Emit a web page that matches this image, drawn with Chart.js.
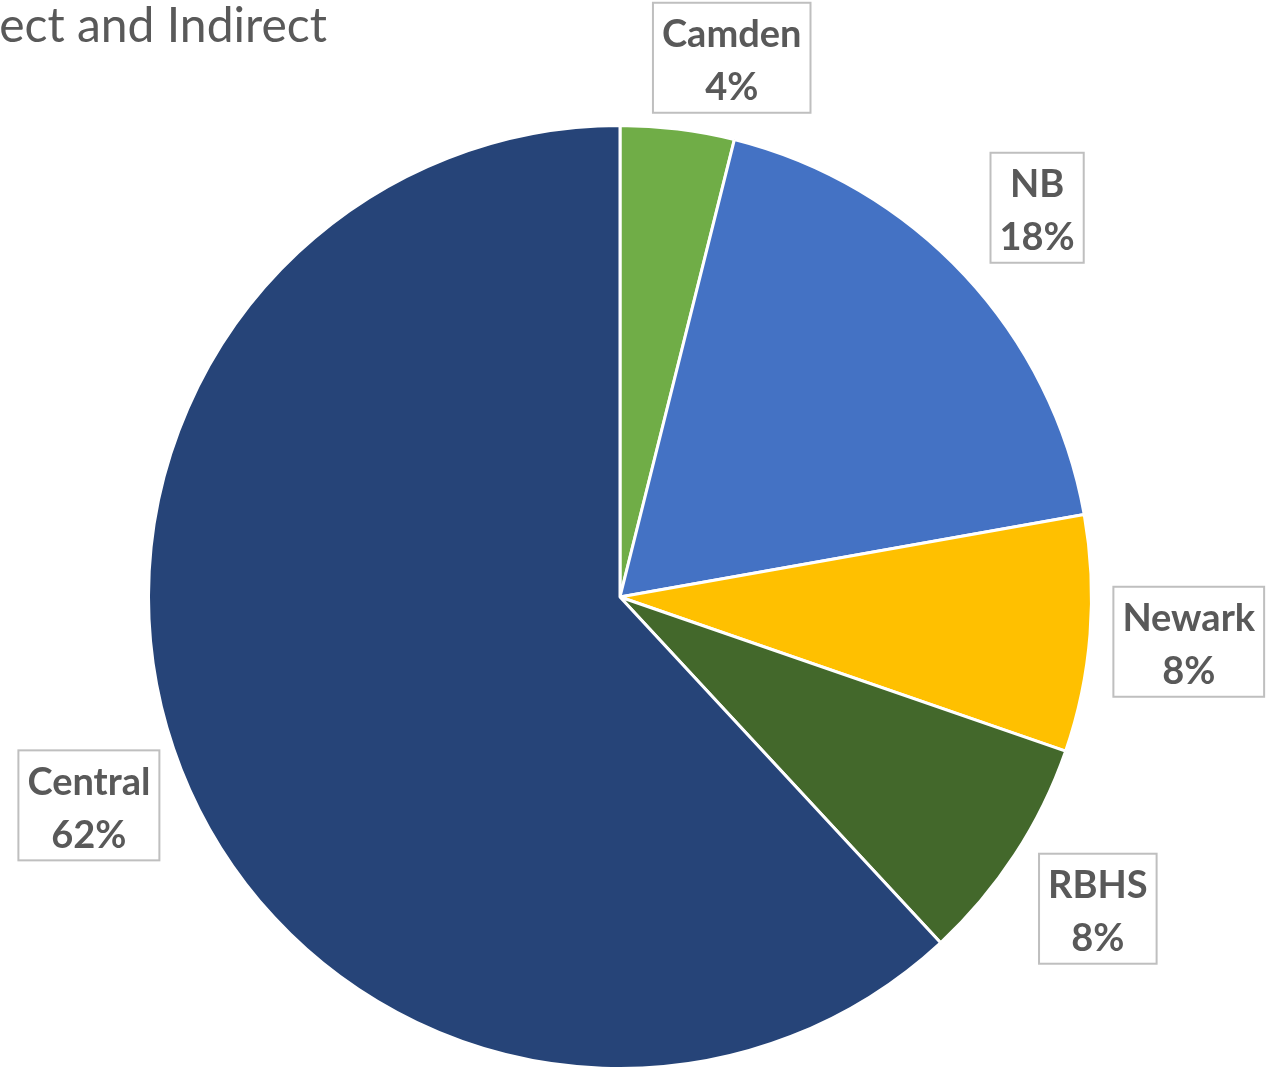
<!DOCTYPE html>
<html>
<head>
<meta charset="utf-8">
<script src="https://cdn.jsdelivr.net/npm/chart.js@4/dist/chart.umd.min.js"></script>
<style>
  html, body { margin: 0; padding: 0; background: #fff; }
  #wrap { width: 1272px; height: 1073px; }
</style>
</head>
<body>
<div id="wrap"><canvas id="pieChart" width="1272" height="1073"></canvas></div>
<script>
// data
const regions = ['Camden', 'NB', 'Newark', 'RBHS', 'Central'];
const shares = [3.9, 18.3, 8.1, 7.8, 61.9];
const pctLabels = ['4%', '18%', '8%', '8%', '62%'];
const sliceColors = ['#70AD47', '#4472C4', '#FFC000', '#43682B', '#264478'];
const titleText = 'ect and Indirect';

// label boxes outside the pie
const boxLabels = {
  id: 'boxLabels',
  afterDatasetsDraw(chart) {
    const ctx = chart.ctx;
    const arcs = chart.getDatasetMeta(0).data;
    ctx.save();
    ctx.font = 'bold 38px Lato';
    ctx.textAlign = 'center';
    ctx.textBaseline = 'middle';
    arcs.forEach((arc, i) => {
      const mid = (arc.startAngle + arc.endAngle) / 2;
      const r = arc.outerRadius * 1.21;
      let x = arc.x + Math.cos(mid) * r;
      let y = arc.y + Math.sin(mid) * r;
      if (i === 0) { x += 42; y += 27; } // Camden label was nudged right
      const w = Math.max(ctx.measureText(regions[i]).width, ctx.measureText(pctLabels[i]).width) + 18;
      const h = 110;
      ctx.fillStyle = '#fff';
      ctx.fillRect(x - w / 2, y - h / 2, w, h);
      ctx.strokeStyle = '#BFBFBF';
      ctx.lineWidth = 2;
      ctx.strokeRect(x - w / 2, y - h / 2, w, h);
      ctx.fillStyle = '#595959';
      ctx.fillText(regions[i], x, y - 23);
      ctx.fillText(pctLabels[i], x, y + 30);
    });
    ctx.restore();
  }
};

// title sits partly off the left edge
const cutTitle = {
  id: 'cutTitle',
  afterDraw(chart) {
    const ctx = chart.ctx;
    ctx.save();
    ctx.font = '48px Lato';
    ctx.fillStyle = '#595959';
    ctx.textAlign = 'right';
    ctx.textBaseline = 'alphabetic';
    ctx.fillText(titleText, 327, 42);
    ctx.restore();
  }
};

const ctx = document.getElementById('pieChart').getContext('2d');
const pieChart = new Chart(ctx, {
  type: 'pie',
  data: {
    labels: regions,
    datasets: [{
      data: shares,
      backgroundColor: sliceColors,
      borderColor: '#fff',
      borderWidth: 3
    }]
  },
  options: {
    responsive: false,
    animation: false,
    layout: { padding: { left: 147, right: 179, top: 124, bottom: 3 } },
    plugins: {
      legend: { display: false },
      tooltip: { enabled: false },
      title: { display: false }
    }
  },
  plugins: [boxLabels, cutTitle]
});
</script>
</body>
</html>
